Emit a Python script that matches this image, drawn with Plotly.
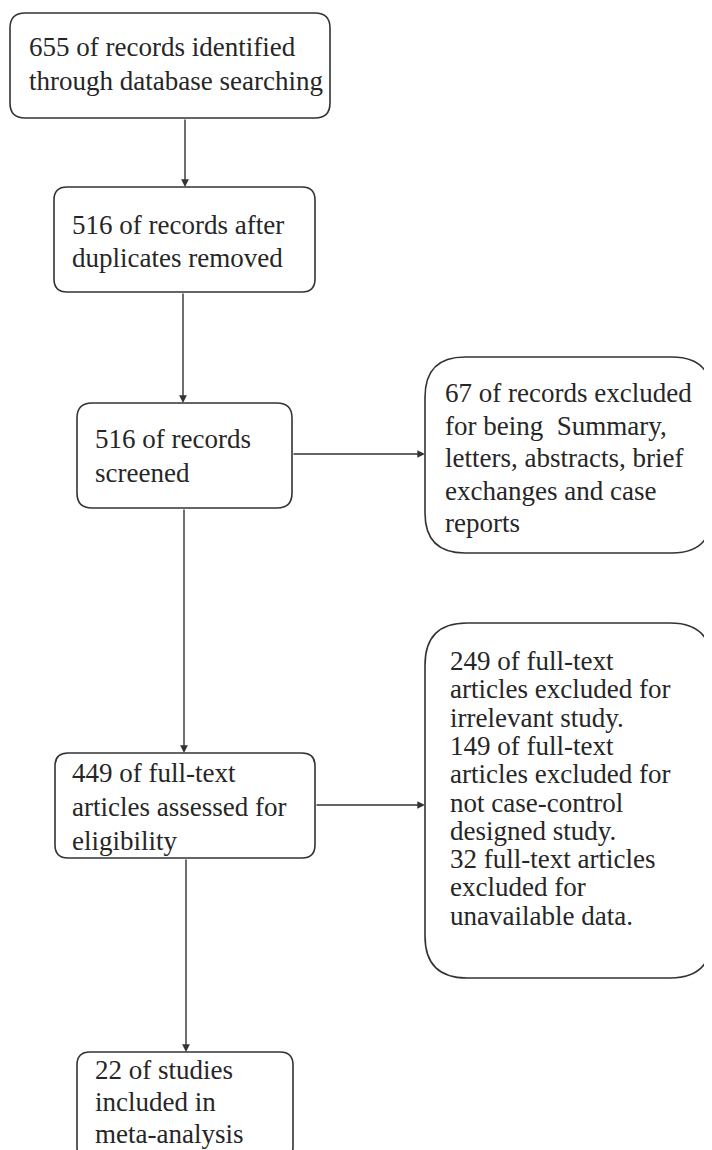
import plotly.graph_objects as go

# ---- content (text lines of each box) ----
box_lines = [
    ["655 of records identified", "through database searching"],
    ["516 of records after", "duplicates removed"],
    ["516 of records", "screened"],
    ["67 of records excluded", "for being  Summary,", "letters, abstracts, brief", "exchanges and case", "reports"],
    ["449 of full-text", "articles assessed for", "eligibility"],
    ["249 of full-text", "articles excluded for", "irrelevant study.", "149 of full-text",
     "articles excluded for", "not case-control", "designed study.", "32 full-text articles",
     "excluded for", "unavailable data."],
    ["22 of studies", "included in", "meta-analysis"],
]

# ---- layout geometry (pixels; x0, y0, x1, y1, corner radius, text left, first line y, line step) ----
box_geom = [
    (10, 13, 330, 118, 15, 27, 47, 34),
    (54, 187, 315, 292, 13, 70, 225, 33),
    (77, 403, 292, 508, 15, 93, 439, 34),
    (425, 357, 712, 553, 40, 443, 393, 32.5),
    (55, 753, 315, 858, 13, 70, 773, 34),
    (425, 623, 712, 978, 42, 448, 661, 28.3),
    (77, 1052, 293, 1160, 13, 93, 1070, 32),
]

# arrows: (tail_x, tail_y, tip_x, tip_y)
arrows = [
    (185, 118, 185, 187),
    (183, 292, 183, 403),
    (292, 454, 425, 454),
    (184, 508, 184, 753),
    (315, 805, 425, 805),
    (186, 858, 186, 1052),
]

W, H = 712, 1150
OFF = 8  # page body margin
LINE = "#333333"
TEXT = "#262626"
FONT = "Liberation Serif"


def rounded_path(x0, y0, x1, y1, r):
    return (f"M {x0+r},{y0} L {x1-r},{y0} Q {x1},{y0} {x1},{y0+r} "
            f"L {x1},{y1-r} Q {x1},{y1} {x1-r},{y1} L {x0+r},{y1} "
            f"Q {x0},{y1} {x0},{y1-r} L {x0},{y0+r} Q {x0},{y0} {x0+r},{y0} Z")


fig = go.Figure()
fig.add_trace(go.Scatter(x=[OFF, W], y=[OFF, H], mode="markers",
                         marker=dict(opacity=0), hoverinfo="skip", showlegend=False))

shapes = []
annotations = []
for lines, (x0, y0, x1, y1, r, tx, ty, step) in zip(box_lines, box_geom):
    shapes.append(dict(type="path", path=rounded_path(x0, y0, x1, y1, r),
                       xref="x", yref="y", line=dict(color=LINE, width=1.6),
                       fillcolor="white", layer="below"))
    for i, ln in enumerate(lines):
        annotations.append(dict(x=tx, y=ty + i * step, xref="x", yref="y",
                                text=ln, showarrow=False, xanchor="left", yanchor="middle",
                                font=dict(family=FONT, size=27, color=TEXT)))

for (ax_, ay_, x_, y_) in arrows:
    annotations.append(dict(x=x_, y=y_, ax=ax_, ay=ay_, xref="x", yref="y",
                            axref="x", ayref="y", text="", showarrow=True,
                            arrowhead=2, arrowsize=1.1, arrowwidth=1.4,
                            arrowcolor=LINE, standoff=0, startstandoff=0))

fig.update_layout(
    width=W - OFF, height=H - OFF,
    margin=dict(l=0, r=0, t=0, b=0),
    paper_bgcolor="white", plot_bgcolor="white",
    xaxis=dict(range=[OFF, W], visible=False, fixedrange=True),
    yaxis=dict(range=[H, OFF], visible=False, fixedrange=True),
    shapes=shapes, annotations=annotations, showlegend=False,
)

fig.write_html("out.html")
